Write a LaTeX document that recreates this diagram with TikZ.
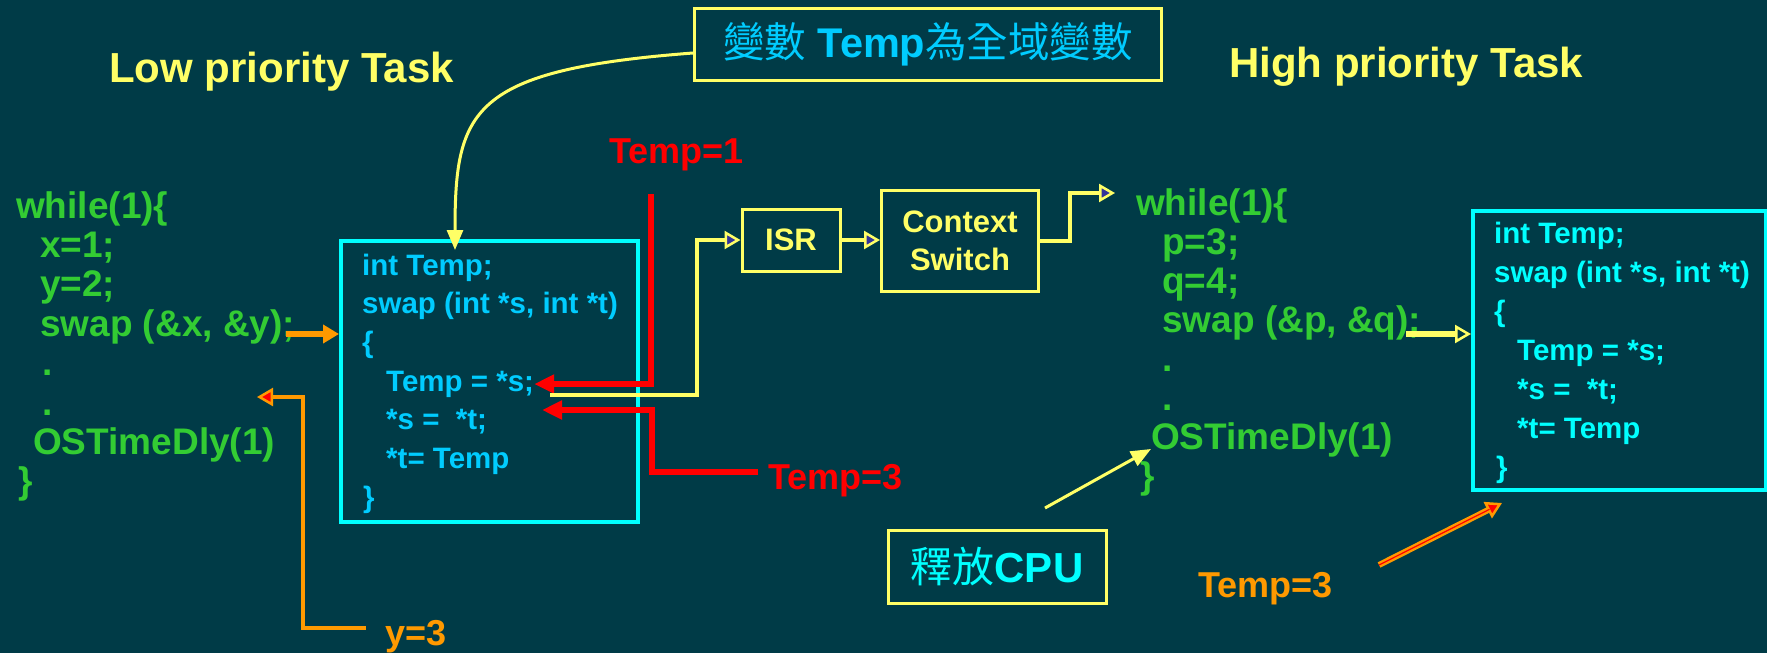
\documentclass[tikz,border=0pt]{standalone}
\usepackage{fontspec}
\setmainfont{Liberation Sans}
\newfontfamily\cjk{Noto Sans CJK TC}
\usetikzlibrary{arrows.meta, positioning, calc}

\definecolor{bgteal}{HTML}{003B47}
\definecolor{codegreen}{HTML}{33CC33}
\definecolor{skycyan}{HTML}{00CCFF}
\definecolor{brightcyan}{HTML}{00FFFF}
\definecolor{lightyellow}{HTML}{FFFF66}
\definecolor{ledorange}{HTML}{FF9900}
\definecolor{tipblue}{HTML}{333399}

\tikzset{
  codeline/.style={anchor=base west, inner sep=0pt, text=codegreen,
    font=\fontsize{37}{40}\selectfont\bfseries},
  boxline/.style={anchor=base west, inner sep=0pt,
    font=\fontsize{29.5}{36}\selectfont\bfseries},
  codebox/.style={draw=brightcyan, line width=4pt, inner sep=0pt, anchor=north west},
  ybox/.style={draw=lightyellow, line width=3pt, inner sep=0pt, align=center},
  title/.style={anchor=base west, inner sep=0pt, text=lightyellow,
    font=\fontsize{42}{46}\selectfont\bfseries},
  note/.style={anchor=base west, inner sep=0pt, font=\fontsize{36}{40}\selectfont\bfseries},
  redarr/.style={draw=red, line width=6pt, -{Triangle[length=20pt,width=18pt]}},
  orarr/.style={draw=ledorange, line width=6pt, -{Triangle[length=16pt,width=18pt]}},
  orhollow/.style={draw=ledorange, line width=4pt,
    -{Triangle[length=16pt,width=18pt,fill=red,line width=2.5pt]}},
  yline/.style={draw=lightyellow, line width=3.5pt,
    -{Triangle[length=16pt,width=18pt,fill=tipblue,line width=2.5pt]}},
  yopen/.style={draw=lightyellow, line width=6pt,
    -{Triangle[open,length=16pt,width=18pt,line width=2.5pt]}},
  ythin/.style={draw=lightyellow, line width=3pt, -{Triangle[length=20pt,width=16pt]}}
}

\begin{document}
\begin{tikzpicture}[x=1pt, y=-1pt]
    \fill[bgteal] (0,0) rectangle (1767,653);
    \useasboundingbox (0,0) rectangle (1767,653);

    % --- titles ---
    \node[title] (lowtitle) at (109,82) {Low priority Task};
    \node[title] (hightitle) at (1229,77) {High priority Task};

    % --- low priority task ---
    \foreach \cx/\ctext [count=\i] in {16/while(1)\{, 40/x=1;, 40/y=2;, {40/swap (\&x, \&y);},
        42/., 42/., 33/OSTimeDly(1), 18/\}}
        \node[codeline] (lc\i) at (\cx, 218+39.4*\i-39.4) {\ctext};
    \node[codebox, minimum width=297pt, minimum height=281pt] (lowbox) at (339,239) {};
    \foreach \cx/\ctext [count=\i] in {362/int Temp;, {362/swap (int *s, int *t)}, 362/\{,
        386/Temp = *s;, 386/*s = \ *t;, 386/*t= Temp, 363/\}}
        \node[boxline, text=skycyan] (lb\i) at (\cx, 275+38.7*\i-38.7) {\ctext};

    % --- high priority task ---
    \foreach \cx/\ctext [count=\i] in {1136/while(1)\{, 1162/p=3;, 1162/q=4;, {1162/swap (\&p, \&q);},
        1162/., 1162/., 1151/OSTimeDly(1), 1140/\}}
        \node[codeline] (hc\i) at (\cx, 215+39*\i-39) {\ctext};
    \node[codebox, minimum width=293pt, minimum height=279pt] (hibox) at (1471,209) {};
    \foreach \cx/\ctext [count=\i] in {1494/int Temp;, {1494/swap (int *s, int *t)}, 1494/\{,
        1517/Temp = *s;, 1517/*s = \ *t;, 1517/*t= Temp, 1496/\}}
        \node[boxline, text=brightcyan] (hb\i) at (\cx, 243+39*\i-39) {\ctext};

    % --- boxes ---
    \node[ybox, minimum width=467pt, minimum height=72pt, text=skycyan,
        font=\fontsize{41.5}{44}\selectfont\bfseries] (gvar) at (928,44)
        {{\cjk\mdseries 變數} Temp{\cjk\mdseries 為全域變數}};
    \node[ybox, minimum width=98pt, minimum height=62pt, text=lightyellow,
        font=\fontsize{31}{38}\selectfont\bfseries] (isr) at (791,240) {ISR};
    \node[ybox, minimum width=157pt, minimum height=101pt, text=lightyellow,
        font=\fontsize{31}{38}\selectfont\bfseries] (cs) at (960,241) {Context\\Switch};
    \node[ybox, minimum width=218pt, minimum height=73pt, text=brightcyan,
        font=\fontsize{42}{46}\selectfont\bfseries] (release) at (997,567) {{\cjk\mdseries 釋放}CPU};

    % --- labels ---
    \node[note, text=red] (temp1) at (609,163) {Temp=1};
    \node[note, text=red] (temp3) at (768,489) {Temp=3};
    \node[note, text=ledorange] (y3) at (385,645) {y=3};
    \node[note, text=ledorange] (temp3b) at (1198,597) {Temp=3};

    % --- connectors ---
    \coordinate (gtip) at (455,250);
    \draw[ythin] ([yshift=-9pt]gvar.west) .. controls (470,70) and (455,110) .. (gtip);

    \coordinate (r1top) at (651,194);
    \draw[redarr] (r1top) |- (lb4.east);
    \coordinate (r2start) at (758,472);
    \coordinate (r2bend) at (652,410);
    \coordinate (r2tip) at (542,410);
    \draw[redarr] (r2start) -| (r2bend) -- (r2tip);

    \coordinate (ystart) at (550,395);
    \coordinate (ybend) at (697,240);
    \draw[yline] (ystart) -| (ybend) -- (isr.west);
    \draw[yline] (isr.east) -- (isr.east -| cs.west);
    \coordinate (hientry) at (1115,193);
    \draw[yline] (cs.east) -- ++(30,0) |- (hientry);

    \coordinate (swapL) at (286,334);
    \draw[orarr] (swapL) -- (swapL -| lowbox.west);
    \coordinate (swapR) at (1406,334);
    \draw[yopen] (swapR) -- (swapR -| hibox.west);

    \coordinate (ostart) at (366,628);
    \coordinate (obend) at (303,397);
    \coordinate (otip) at (257,397);
    \draw[orhollow] (ostart) -| (obend) -- (otip);

    \coordinate (relstart) at (1045,508);
    \draw[ythin] (relstart) -- (hc7.base west);

    \coordinate (t3start) at (1379,565);
    \coordinate (t3tip) at (1502,503);
    \draw[orhollow, line width=6pt] (t3start) -- (t3tip);
    \draw[red, line width=1.2pt, shorten >=14pt] (t3start) -- (t3tip);
\end{tikzpicture}
\end{document}
